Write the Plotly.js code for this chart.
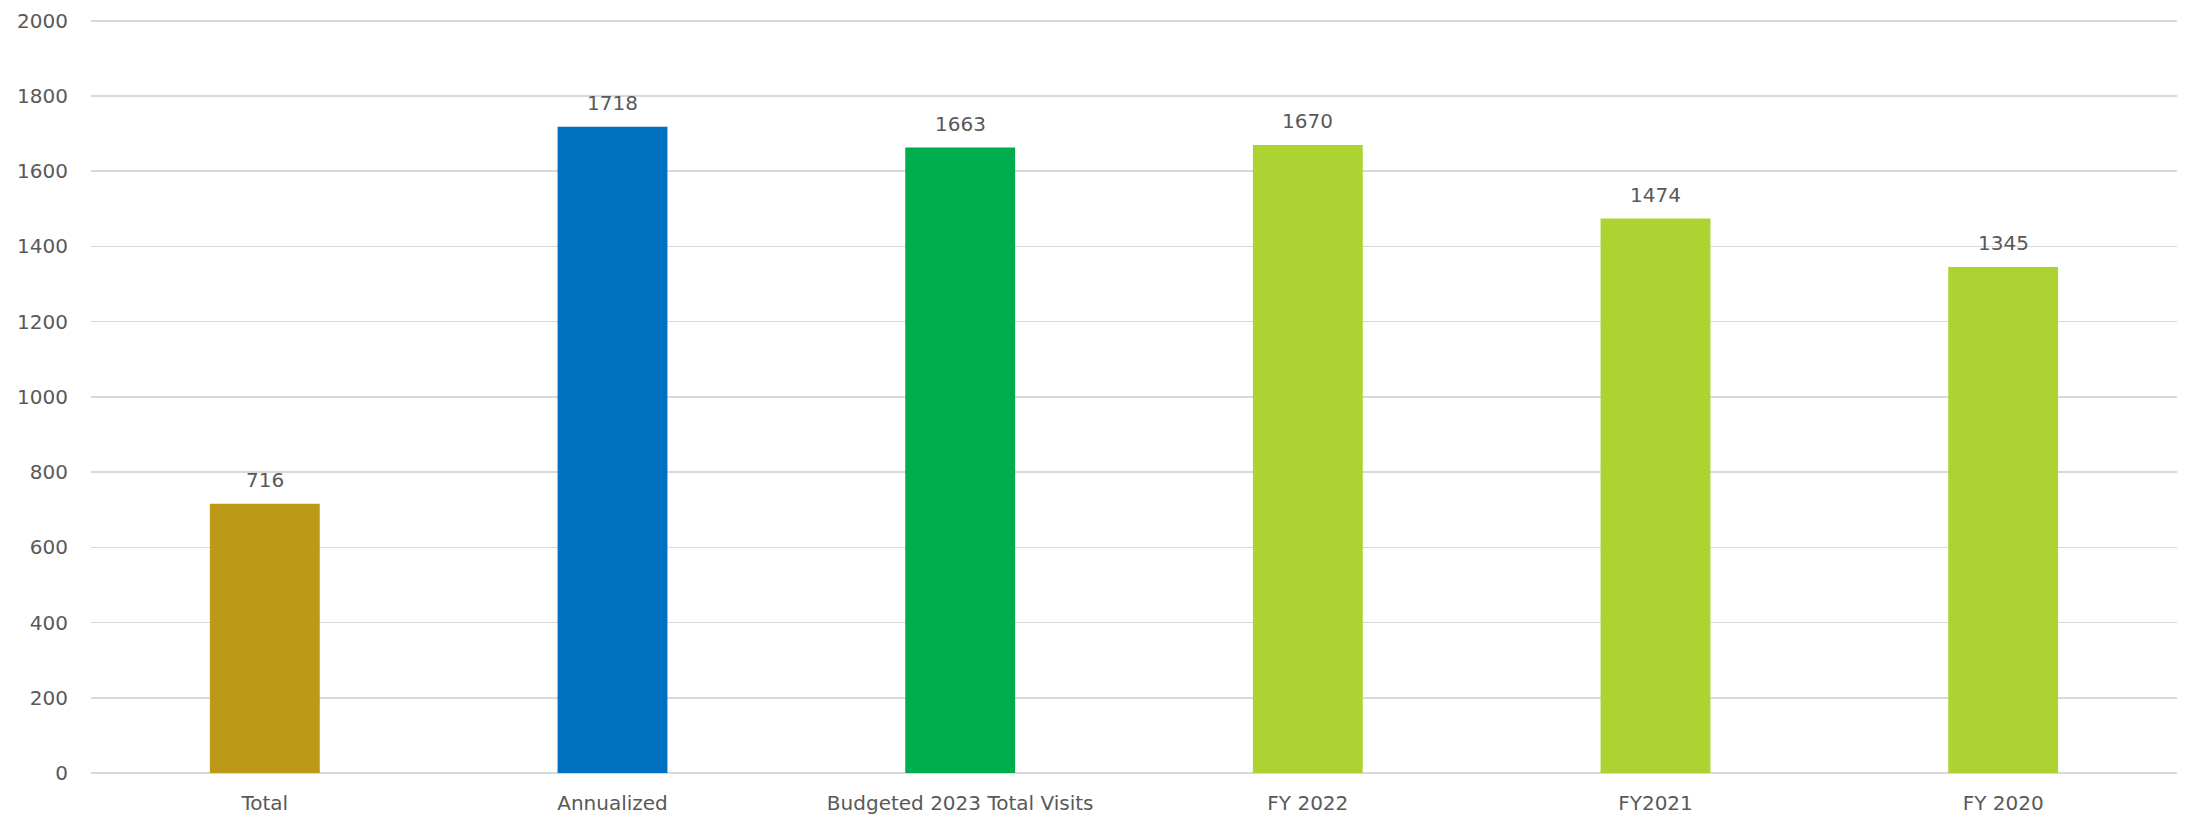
<!DOCTYPE html>
<html>
<head>
<meta charset="utf-8">
<script src="https://cdn.plot.ly/plotly-3.0.1.min.js"></script>
<style>html,body{margin:0;padding:0;background:#fff;}#chart{width:2190px;height:819px;}</style>
</head>
<body>
<div id="chart"></div>
<script>
const categories = ["Total", "Annualized", "Budgeted 2023 Total Visits", "FY 2022", "FY2021", "FY 2020"];
const values = [716, 1718, 1663, 1670, 1474, 1345];
const barColors = ["#BC9A18", "#0070C0", "#00AD4E", "#ADD332", "#ADD332", "#ADD332"];
const yTicks = [0, 200, 400, 600, 800, 1000, 1200, 1400, 1600, 1800, 2000];

const fontFam = "DejaVu Sans, sans-serif";
const annotations = categories.map((c, i) => ({
  x: c, y: values[i], xref: "x", yref: "y",
  text: String(values[i]), showarrow: false,
  yanchor: "bottom", yshift: 10,
  font: {family: fontFam, size: 20, color: "#595959"}
}));

Plotly.newPlot("chart", [{
  type: "bar",
  x: categories,
  y: values,
  marker: {color: barColors},
  hoverinfo: "none"
}], {
  width: 2190, height: 819,
  margin: {l: 91, r: 13, t: 17, b: 46},
  paper_bgcolor: "#fff", plot_bgcolor: "#fff",
  bargap: 0.684,
  showlegend: false,
  annotations: annotations,
  font: {family: fontFam, color: "#595959", size: 20},
  xaxis: {
    showgrid: false, zeroline: false, showline: false,
    ticks: "", tickfont: {size: 20, color: "#595959"}, ticklabelstandoff: 16
  },
  yaxis: {
    range: [0, 2010], tickvals: yTicks, ticktext: yTicks.map(String),
    showgrid: true, gridcolor: "#D9D9D9", gridwidth: 1.5,
    zeroline: true, zerolinecolor: "#D9D9D9", zerolinewidth: 1.5,
    showline: false, ticks: "", ticklabelstandoff: 22,
    tickfont: {size: 20, color: "#595959"}
  }
}, {staticPlot: true});
</script>
</body>
</html>
